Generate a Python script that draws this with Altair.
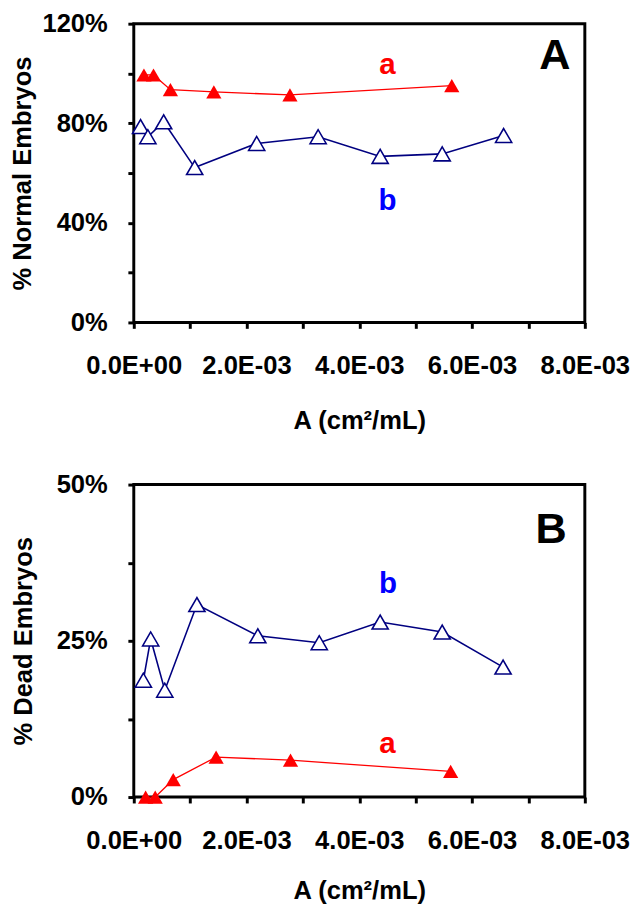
import altair as alt
import pandas as pd

# ---- data ----
# Panel A: % normal embryos
a_top_x = [0.18e-3, 0.35e-3, 0.65e-3, 1.42e-3, 2.77e-3, 5.64e-3]
a_top_y = [99.4, 99.4, 93.5, 92.6, 91.4, 95.1]
b_top_x = [0.12e-3, 0.25e-3, 0.53e-3, 1.08e-3, 2.18e-3, 3.27e-3, 4.37e-3, 5.47e-3, 6.56e-3]
b_top_y = [78.7, 74.6, 80.6, 62.2, 71.9, 74.6, 66.7, 67.7, 75.1]

# Panel B: % dead embryos
a_bot_x = [0.21e-3, 0.38e-3, 0.70e-3, 1.46e-3, 2.78e-3, 5.62e-3]
a_bot_y = [0.0, 0.0, 2.8, 6.4, 5.9, 4.1]
b_bot_x = [0.17e-3, 0.30e-3, 0.55e-3, 1.12e-3, 2.20e-3, 3.29e-3, 4.37e-3, 5.47e-3, 6.55e-3]
b_bot_y = [18.7, 25.3, 17.1, 30.8, 25.8, 24.7, 28.0, 26.4, 20.8]

x_ticks = [i * 1e-3 for i in range(9)]
y_ticks_top = [0, 20, 40, 60, 80, 100, 120]
y_ticks_bot = [0, 12.5, 25, 37.5, 50]

# annotation labels (text, x, y in data units)
ann_top = {"letters": ["A", "a", "b"], "x": [7.47e-3, 4.5e-3, 4.5e-3], "y": [106.9, 103.4, 48.8]}
ann_bot = {"letters": ["B", "b", "a"], "x": [7.4e-3, 4.51e-3, 4.5e-3], "y": [42.7, 34.1, 8.5]}

RED = "#FF0000"
NAVY = "#000080"
BLUE = "#0000FF"
FONT = "Liberation Sans"

x_label_expr = ("round(datum.value*1000) % 2 == 0 ? "
                "(round(datum.value*1000) + '.0E' + (round(datum.value*1000) == 0 ? '+00' : '-03')) : ''")


def panel(ax, ay, bx, by, yticks, ymax, label_step, ytitle, ann, height,
          x_title_pad, y_title_pad):
    da = pd.DataFrame({"x": ax, "y": ay})
    db = pd.DataFrame({"x": bx, "y": by})
    xs = alt.Scale(domain=[0, 0.008], nice=False, zero=False)
    ys = alt.Scale(domain=[0, ymax], nice=False)
    xenc = alt.X("x:Q", scale=xs, title="A (cm²/mL)",
                 axis=alt.Axis(values=x_ticks, labelExpr=x_label_expr,
                               labelFlush=False, labelOverlap=False,
                               labelPadding=25, titlePadding=x_title_pad))
    yenc = alt.Y("y:Q", scale=ys, title=ytitle,
                 axis=alt.Axis(values=yticks,
                               labelExpr=f"(datum.value % {label_step} == 0) ? datum.value + '%' : ''",
                               labelFlush=False, labelOverlap=False,
                               labelPadding=21, titlePadding=y_title_pad))

    line_a = alt.Chart(da).mark_line(color=RED, strokeWidth=1.3).encode(x=xenc, y=yenc)
    pts_a = alt.Chart(da).mark_point(shape="triangle-up", filled=True, color=RED,
                                     size=240, opacity=1).encode(x="x:Q", y="y:Q")
    line_b = alt.Chart(db).mark_line(color=NAVY, strokeWidth=1.6).encode(x="x:Q", y="y:Q")
    pts_b = alt.Chart(db).mark_point(shape="triangle-up", filled=True, fill="white",
                                     stroke=NAVY, strokeWidth=1.6, size=270,
                                     opacity=1).encode(x="x:Q", y="y:Q")

    dann = pd.DataFrame(ann)
    dann["size"] = [44, 30, 30]
    dann["color"] = ["black", RED if ann["letters"][1] == "a" else BLUE,
                     RED if ann["letters"][2] == "a" else BLUE]
    txt = alt.Chart(dann).mark_text(font=FONT, fontWeight="bold", baseline="middle",
                                    align="center").encode(
        x="x:Q", y="y:Q", text="letters:N",
        size=alt.Size("size:Q", scale=None, legend=None),
        color=alt.Color("color:N", scale=None, legend=None))

    return alt.layer(line_a, line_b, pts_b, pts_a, txt).properties(width=459, height=height)


top = panel(a_top_x, a_top_y, b_top_x, b_top_y, y_ticks_top, 120, 40,
            "% Normal Embryos", ann_top, 304, 30, 7)
bot = panel(a_bot_x, a_bot_y, b_bot_x, b_bot_y, y_ticks_bot, 50, 25,
            "% Dead Embryos", ann_bot, 318, 25, 20)

chart = alt.vconcat(top, bot, spacing=35).properties(
    padding={"left": 0, "top": -7, "right": 0, "bottom": 0}
).configure_view(
    stroke="black", strokeWidth=3
).configure_axis(
    grid=False, domain=False, ticks=True, tickColor="black", tickWidth=3, tickSize=6,
    labelFont=FONT, labelFontWeight="bold", labelFontSize=26, labelColor="black",
    titleFont=FONT, titleFontWeight="bold", titleFontSize=26, titleColor="black"
)

chart.save("out.html", embed_options={"renderer": "svg", "actions": False})
